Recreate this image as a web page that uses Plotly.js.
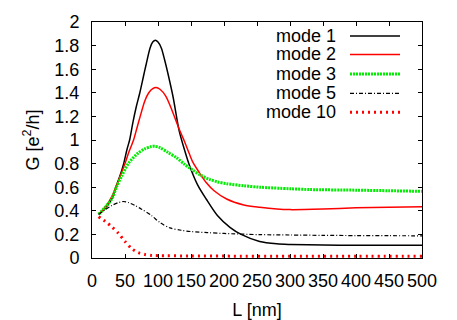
<!DOCTYPE html>
<html>
<head>
<meta charset="utf-8">
<script src="https://cdn.plot.ly/plotly-3.0.1.min.js"></script>
<style>html,body{margin:0;padding:0;background:#fff;}#chart{width:457px;height:320px;}</style>
</head>
<body>
<div id="chart"></div>
<script>
// ---- data ----
const legendNames = ["mode 1", "mode 2", "mode 3", "mode 5", "mode 10"];

const L_mode1 = [10, 20, 30, 36, 42, 48, 53, 57, 62, 67, 72, 78, 82, 88, 92, 96, 100, 105, 110, 116, 123, 132, 140, 148, 160, 173, 190, 209, 226, 254, 280, 300, 350, 400, 450, 500];
const G_mode1 = [0.37, 0.42, 0.50, 0.60, 0.69, 0.80, 0.92, 1.00, 1.15, 1.28, 1.39, 1.54, 1.64, 1.78, 1.83, 1.845, 1.83, 1.78, 1.68, 1.54, 1.36, 1.08, 0.92, 0.78, 0.62, 0.50, 0.36, 0.26, 0.20, 0.14, 0.12, 0.115, 0.11, 0.108, 0.107, 0.107];

const L_mode2 = [10, 20, 30, 39, 50, 56, 63, 68, 73, 80, 86, 92, 97, 103, 112, 122, 133, 140, 147, 153, 163, 173, 185, 204, 230, 254, 280, 300, 350, 400, 450, 500];
const G_mode2 = [0.37, 0.43, 0.52, 0.64, 0.80, 0.90, 1.00, 1.10, 1.20, 1.33, 1.40, 1.435, 1.445, 1.43, 1.37, 1.24, 1.08, 0.99, 0.89, 0.81, 0.72, 0.64, 0.57, 0.50, 0.45, 0.43, 0.415, 0.41, 0.415, 0.425, 0.43, 0.435];

const L_mode3 = [10, 20, 30, 37, 45, 55, 70, 80, 90, 95, 103, 115, 128, 140, 153, 165, 178, 190, 204, 230, 254, 300, 330, 400, 450, 500];
const G_mode3 = [0.37, 0.43, 0.50, 0.60, 0.695, 0.80, 0.89, 0.925, 0.945, 0.947, 0.935, 0.895, 0.85, 0.795, 0.743, 0.70, 0.667, 0.645, 0.63, 0.612, 0.60, 0.587, 0.58, 0.575, 0.57, 0.565];

const L_mode5 = [10, 20, 30, 40, 47, 55, 65, 75, 90, 103, 118, 135, 150, 175, 200, 254, 300, 350, 400, 450, 500];
const G_mode5 = [0.37, 0.41, 0.445, 0.47, 0.479, 0.47, 0.445, 0.414, 0.36, 0.30, 0.255, 0.235, 0.224, 0.215, 0.208, 0.198, 0.195, 0.192, 0.19, 0.189, 0.188];

const L_mode10 = [10, 20, 30, 40, 50, 60, 70, 80, 90, 100, 150, 200, 300, 400, 500];
const G_mode10 = [0.35, 0.31, 0.265, 0.21, 0.14, 0.08, 0.045, 0.03, 0.022, 0.02, 0.017, 0.016, 0.015, 0.015, 0.015];

const xTicks = [0, 50, 100, 150, 200, 250, 300, 350, 400, 450, 500];
const yTicks = [0, 0.2, 0.4, 0.6, 0.8, 1, 1.2, 1.4, 1.6, 1.8, 2];
const yTickText = ["0", "0.2", "0.4", "0.6", "0.8", "1", "1.2", "1.4", "1.6", "1.8", "2"];

// ---- styles ----
const styles = [
  {color: "#000000", width: 1.5, dash: "solid"},
  {color: "#ff0000", width: 1.5, dash: "solid"},
  {color: "#00ee00", width: 3, dash: "2px,1px"},
  {color: "#000000", width: 1.2, dash: "4px,2px,1px,2px"},
  {color: "#ff0000", width: 3, dash: "2px,4px"}
];
const series = [[L_mode1, G_mode1], [L_mode2, G_mode2], [L_mode3, G_mode3], [L_mode5, G_mode5], [L_mode10, G_mode10]];

const traces = series.map((s, i) => ({
  x: s[0], y: s[1], type: "scatter", mode: "lines", name: legendNames[i],
  line: {color: styles[i].color, width: styles[i].width, dash: styles[i].dash, shape: "spline", smoothing: 0.8},
  showlegend: false, hoverinfo: "skip"
}));

// custom legend (text left of sample, gnuplot style)
const plotLeft = 92, plotW = 330, plotBottom = 258, plotH = 236;
const legendRows = [36, 54.5, 74, 93.3, 112.3];
const annotations = [], shapes = [];
legendNames.forEach((n, i) => {
  const yp = (plotBottom - legendRows[i]) / plotH;
  annotations.push({xref: "paper", yref: "paper", x: (338 - plotLeft) / plotW, y: yp, xanchor: "right", yanchor: "middle",
    text: n, showarrow: false, font: {family: "Liberation Sans, Arial, sans-serif", size: 18, color: "#000"}});
  shapes.push({type: "line", xref: "paper", yref: "paper", x0: (350 - plotLeft) / plotW, x1: (400 - plotLeft) / plotW, y0: yp, y1: yp,
    line: {color: styles[i].color, width: styles[i].width, dash: styles[i].dash}});
});

const font = {family: "Liberation Sans, Arial, sans-serif", size: 18, color: "#000"};
const layout = {
  width: 457, height: 320,
  margin: {l: 92, r: 35, t: 22, b: 62},
  paper_bgcolor: "#fff", plot_bgcolor: "#fff",
  font: font,
  showlegend: false,
  xaxis: {
    range: [0, 500], tickvals: xTicks, ticktext: xTicks.map(String),
    ticks: "inside", ticklen: 4, tickcolor: "#000", tickwidth: 1,
    showline: true, linecolor: "#000", linewidth: 1, mirror: "allticks",
    showgrid: false, zeroline: false, tickfont: font, ticklabelstandoff: 6,
    title: {text: "L [nm]", font: font, standoff: 14}
  },
  yaxis: {
    range: [0, 2], tickvals: yTicks, ticktext: yTickText,
    ticks: "inside", ticklen: 4, tickcolor: "#000", tickwidth: 1,
    showline: true, linecolor: "#000", linewidth: 1, mirror: "allticks",
    showgrid: false, zeroline: false, tickfont: font, ticklabelstandoff: 8,
    title: {text: "G [e<sup>2</sup>/h]", font: font, standoff: 10}
  },
  annotations: annotations,
  shapes: shapes
};

Plotly.newPlot("chart", traces, layout, {staticPlot: true, displayModeBar: false});
</script>
</body>
</html>
